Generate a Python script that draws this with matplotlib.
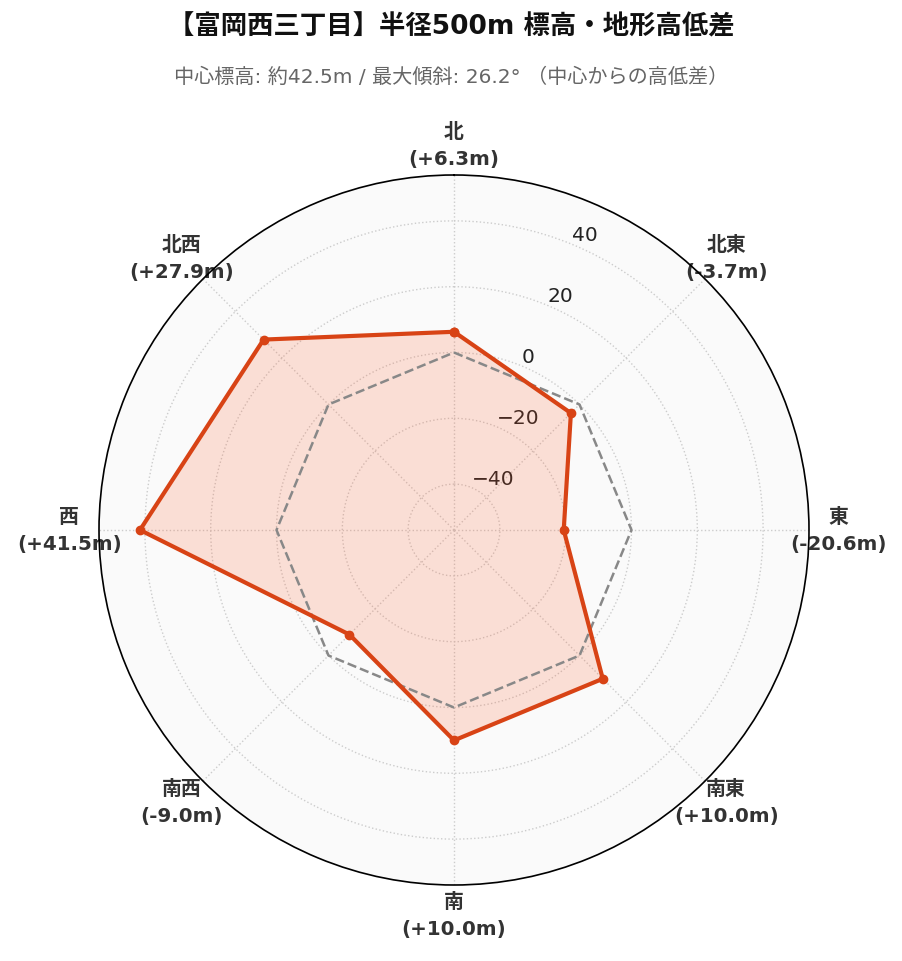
import matplotlib
matplotlib.use('Agg')
import matplotlib.pyplot as plt
import numpy as np

plt.rcParams['font.family'] = ['DejaVu Sans', 'Noto Sans CJK JP']

directions = ['北', '北東', '東', '南東', '南', '南西', '西', '北西']
diffs = [6.3, -3.7, -20.6, 10.0, 10.0, -9.0, 41.5, 27.9]
title = '【富岡西三丁目】半径500m 標高・地形高低差'
subtitle = '中心標高: 約42.5m / 最大傾斜: 26.2° （中心からの高低差）'

n = len(directions)
angles = np.linspace(0, 2 * np.pi, n, endpoint=False).tolist()
vals = diffs + diffs[:1]
ang = angles + angles[:1]
lim = max(abs(v) for v in diffs) * 1.3

fig = plt.figure(figsize=(9.03, 9.62), dpi=100)
ax = fig.add_axes([99 / 903, 76 / 962, 710 / 903, 710 / 962], projection='polar')
ax.set_theta_offset(np.pi / 2)
ax.set_theta_direction(-1)
ax.set_facecolor('#fafafa')

ax.fill(ang, vals, color='#ff5722', alpha=0.17, zorder=2)
ax.plot(ang, [0] * len(ang), color='#888888', lw=1.8, ls='--', zorder=3)
ax.plot(ang, vals, color='#d84315', lw=3, marker='o', ms=6, zorder=4)

ax.set_ylim(-lim, lim)
ax.set_yticks([-40, -20, 0, 20, 40])
ax.set_rlabel_position(22.5)
ax.tick_params(axis='y', labelsize=14.5, colors='#222222')
ax.set_xticks(angles)
labels = [f'{d}\n({v:+.1f}m)' for d, v in zip(directions, diffs)]
ax.set_xticklabels(labels, fontsize=14.3, fontweight='bold', color='#333333', linespacing=1.55)
ax.tick_params(axis='x', pad=11)
ax.grid(color='#cccccc', ls=':', lw=1)
ax.spines['polar'].set_color('black')
ax.spines['polar'].set_linewidth(1.2)

fig.text(0.5, 1 - 27 / 962, title, ha='center', va='center', fontsize=19, fontweight='bold', color='#111111')
fig.text(0.5, 1 - 77 / 962, subtitle, ha='center', va='center', fontsize=14.5, color='#666666')

fig.savefig('out.png', dpi=100)
